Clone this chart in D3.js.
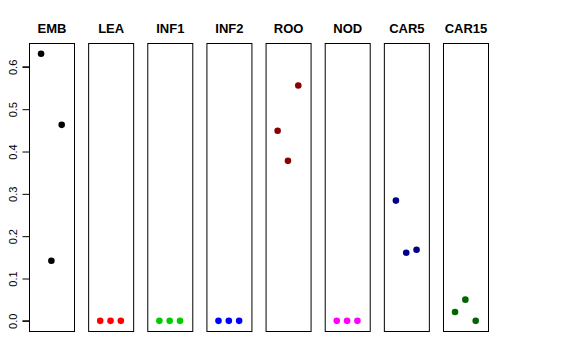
<!DOCTYPE html>
<html>
<head>
<meta charset="utf-8">
<script src="https://cdn.jsdelivr.net/npm/d3@7"></script>
<style>
  body { margin: 0; background: #fff; }
  text { font-family: "Liberation Sans", Arial, sans-serif; }
</style>
</head>
<body>
<div id="chart"></div>
<script>
var tissues = ['EMB', 'LEA', 'INF1', 'INF2', 'ROO', 'NOD', 'CAR5', 'CAR15'];
var colors = ['#000000', '#ff0000', '#00cd00', '#0000ff', '#8b0000', '#ff00ff', '#00008b', '#006400'];
var EMB = [0.631, 0.142, 0.463];
var LEA = [0, 0, 0];
var INF1 = [0, 0, 0];
var INF2 = [0, 0, 0];
var ROO = [0.449, 0.378, 0.556];
var NOD = [0, 0, 0];
var CAR5 = [0.284, 0.161, 0.168];
var CAR15 = [0.021, 0.050, 0.0];
var series = [EMB, LEA, INF1, INF2, ROO, NOD, CAR5, CAR15];
var yTicks = [0, 0.1, 0.2, 0.3, 0.4, 0.5, 0.6];

var width = 576, height = 360;
var plotTop = 43.5, plotBottom = 331.5;

var svg = d3.select('#chart')
  .append('svg')
  .attr('width', width)
  .attr('height', height);

var panel = d3.scaleBand()
  .domain(tissues)
  .range([29.5, 488.5])
  .paddingInner(0.239)
  .paddingOuter(0);

var y = d3.scaleLinear()
  .domain([-0.0252, 0.6552])
  .range([plotBottom, plotTop]);

// x inside each panel: replicate index 1..3
var x = d3.scaleLinear()
  .domain([-0.12, 4.24])
  .range([0, panel.bandwidth()]);

tissues.forEach(function(t, i) {
  var g = svg.append('g')
    .attr('transform', 'translate(' + panel(t) + ',0)');

  g.append('rect')
    .attr('x', 0)
    .attr('y', plotTop)
    .attr('width', panel.bandwidth())
    .attr('height', plotBottom - plotTop)
    .attr('fill', 'none')
    .attr('stroke', '#000');

  g.append('text')
    .attr('x', panel.bandwidth() / 2)
    .attr('y', 33)
    .attr('text-anchor', 'middle')
    .attr('font-size', 13)
    .attr('font-weight', 'bold')
    .text(t);

  g.selectAll('.pt')
    .data(series[i])
    .enter().append('circle')
    .attr('class', 'pt')
    .attr('cx', function(d, j) { return x(j + 1); })
    .attr('cy', function(d) { return y(d); })
    .attr('r', 3.3)
    .attr('fill', colors[i]);
});

var yAxis = svg.append('g')
  .attr('transform', 'translate(' + panel(tissues[0]) + ',0)')
  .call(d3.axisLeft(y).tickValues(yTicks).tickSize(7).tickPadding(6).tickFormat(d3.format('.1f')));

yAxis.select('.domain').attr('d', 'M-7,' + y(0) + 'H0V' + y(0.6) + 'H-7').attr('stroke', '#000');
yAxis.selectAll('.tick line').attr('stroke', '#000');
yAxis.selectAll('.tick text')
  .attr('font-family', '"Liberation Sans", Arial, sans-serif')
  .attr('font-size', 11)
  .attr('fill', '#000')
  .attr('transform', 'rotate(-90)')
  .attr('x', 0)
  .attr('y', -13)
  .attr('dy', 0)
  .attr('text-anchor', 'middle');
</script>
</body>
</html>
